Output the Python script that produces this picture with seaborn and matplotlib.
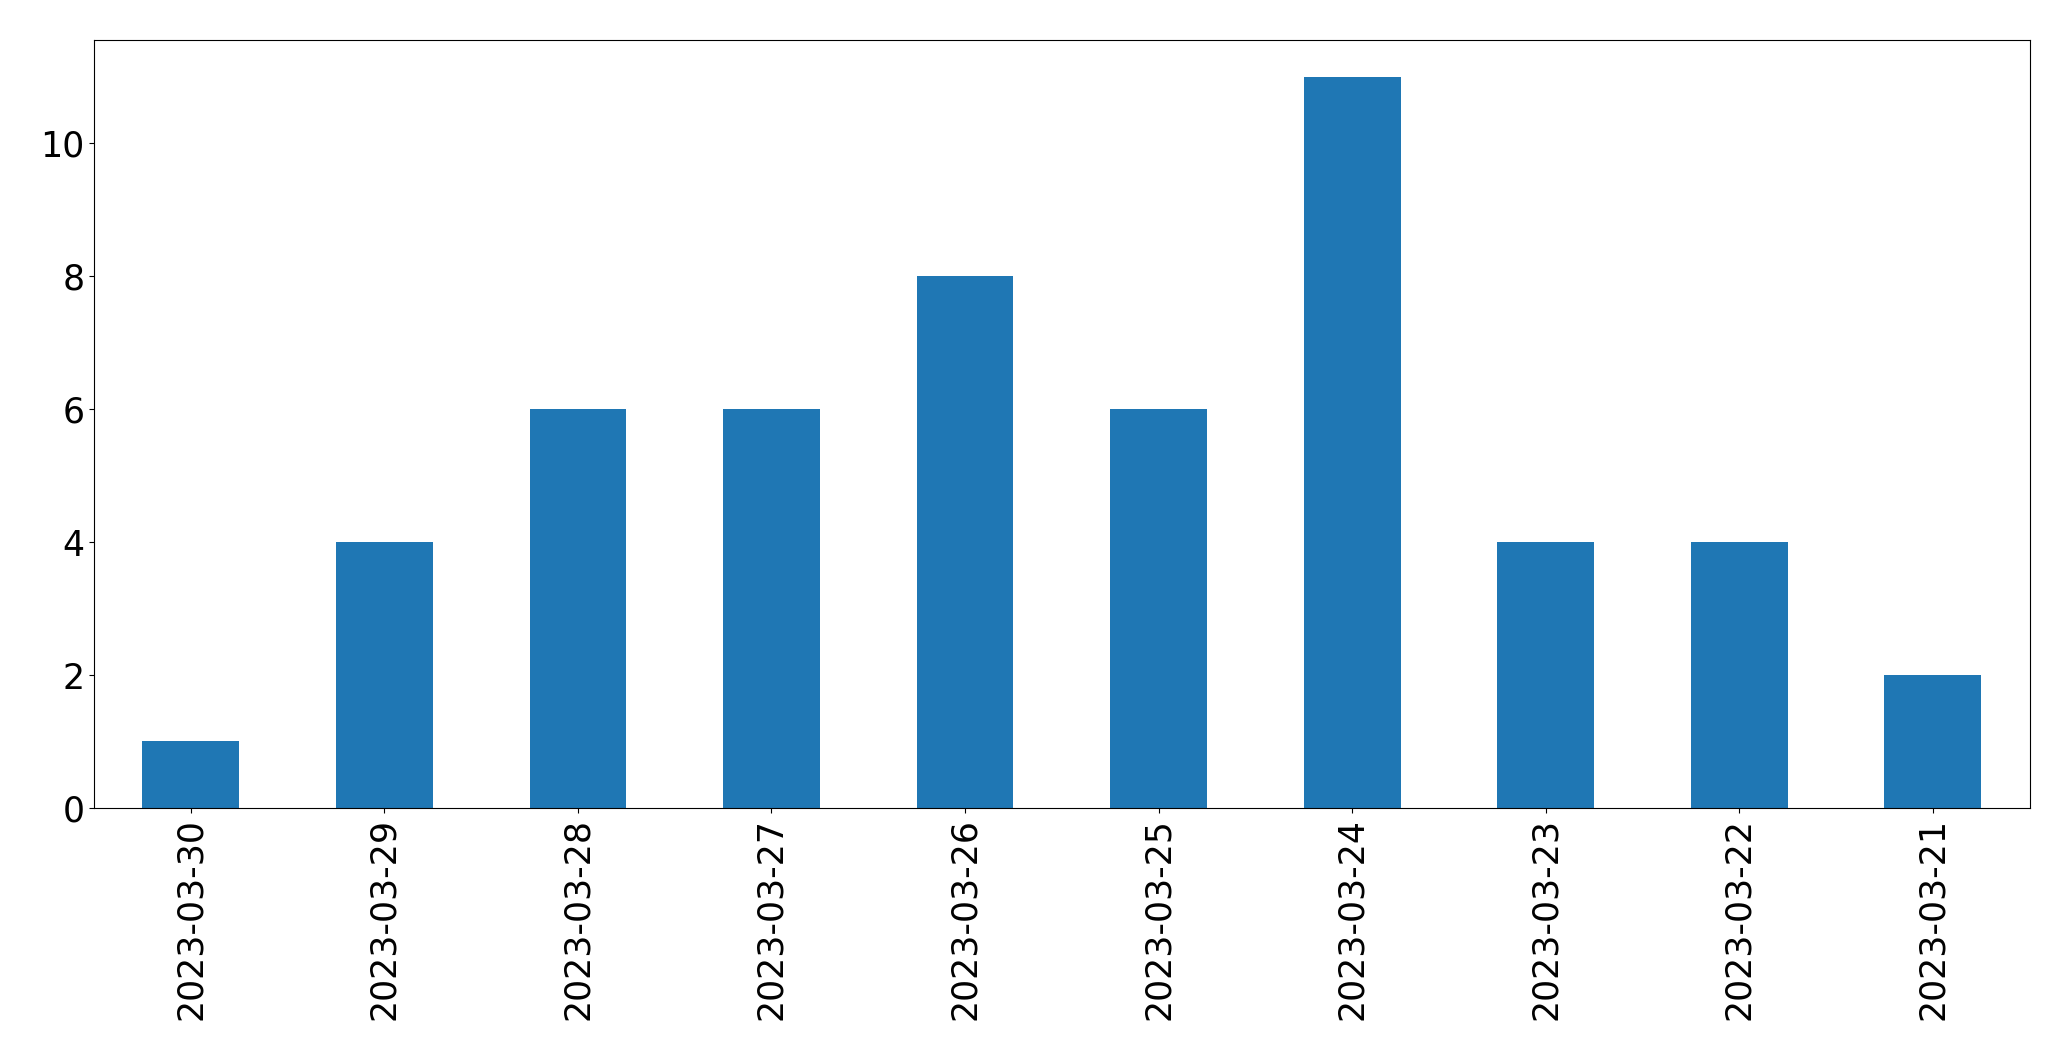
import matplotlib
matplotlib.use("Agg")
import matplotlib.pyplot as plt
import seaborn as sns
import pandas as pd

dates = ["2023-03-30", "2023-03-29", "2023-03-28", "2023-03-27", "2023-03-26",
         "2023-03-25", "2023-03-24", "2023-03-23", "2023-03-22", "2023-03-21"]
counts = [1, 4, 6, 6, 8, 6, 11, 4, 4, 2]

df = pd.DataFrame({"date": dates, "count": counts})

fig = plt.figure(figsize=(20.71, 10.61), dpi=100)
ax = fig.add_axes([0.0454, 0.2385, 0.9346, 0.7235])
sns.barplot(data=df, x="date", y="count", order=dates, color="#1f77b4",
            saturation=1, width=0.5, linewidth=0, ax=ax)
ax.set_xlim(-0.5, len(dates) - 0.5)
ax.set_ylim(0, max(counts) * 1.05)
ax.set_xlabel("")
ax.set_ylabel("")
ax.tick_params(axis="x", labelsize=25, rotation=90)
ax.tick_params(axis="y", labelsize=25)
ax.set_yticks([0, 2, 4, 6, 8, 10])
fig.savefig("out.png", dpi=100)
